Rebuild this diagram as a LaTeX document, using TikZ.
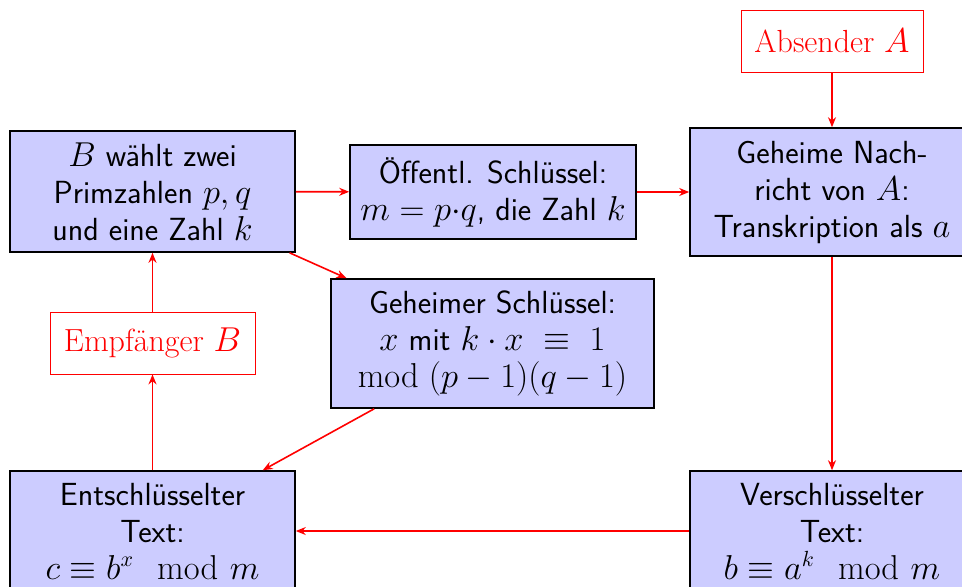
\documentclass[tikz,border=0pt]{standalone}
\usepackage{amsmath}
\usetikzlibrary{arrows.meta}
\begin{document}
\begin{tikzpicture}[x=0.5pt,y=-0.5pt,
  box/.style={draw=black, thick, fill=blue!20, align=center,
    font=\fontsize{16}{18.5}\selectfont\sffamily, inner sep=0pt},
  agent/.style={draw=red, text=red, fill=white,
    font=\fontsize{16}{18.5}\selectfont, inner sep=0pt, minimum height=31pt},
  link/.style={draw=red, thick, -{Stealth[length=5pt,width=4pt]}}]
\useasboundingbox (0,0) rectangle (962,586);

% the parties
\node[agent, minimum width=91pt]   (sender)   at (832,41)  {Absender $A$};
\node[agent, minimum width=102.5pt] (receiver) at (152.5,343) {Empfänger $B$};

% the steps of the scheme
\node[box, minimum width=142.5pt, minimum height=60.5pt] (choose) at (152.5,191.5)
  {$B$ wählt zwei\\ Primzahlen $p,q$\\ und eine Zahl $k$};
\node[box, minimum width=143pt, minimum height=47pt] (public) at (493,192)
  {Öffentl. Schlüssel:\\ $m=p{\cdot}q$, die Zahl $k$};
\node[box, minimum width=142pt, minimum height=64pt] (message) at (832,192)
  {Geheime Nach-\\ richt von $A$:\\ Transkription als $a$};
\node[box, minimum width=161.5pt, minimum height=64.5pt] (private) at (492.5,343.5)
  {Geheimer Schlüssel:\\ $x$ mit $k\cdot x\ \equiv\ 1$\\ $\mathrm{mod}\ (p-1)(q-1)$};
\node[box, minimum width=142.5pt, minimum height=60pt] (decrypted) at (152.5,531)
  {Entschlüsselter\\ Text:\\ $c\equiv b^x \mod m$};
\node[box, minimum width=142pt, minimum height=60pt] (encrypted) at (832,531)
  {Verschlüsselter\\ Text:\\ $b\equiv a^k \mod m$};

% flow of information
\draw[link] (sender) -- (message);
\draw[link] (choose) -- (public);
\draw[link] (public) -- (message);
\draw[link] (choose) -- (private);
\draw[link] (message) -- (encrypted);
\draw[link] (encrypted) -- (decrypted);
\draw[link] (private) -- (decrypted);
\draw[link] (decrypted) -- (receiver);
\draw[link] (receiver) -- (choose);
\end{tikzpicture}
\end{document}
